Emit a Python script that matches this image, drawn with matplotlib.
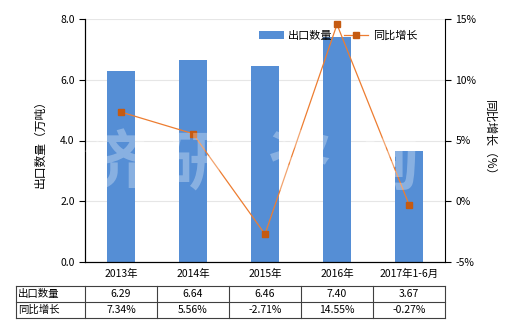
import matplotlib
matplotlib.use("Agg")
import matplotlib.pyplot as plt
import numpy as np

plt.rcParams['font.family'] = ['Noto Sans CJK SC', 'DejaVu Sans']

categories = ["2013年", "2014年", "2015年", "2016年", "2017年1-6月"]
export_qty = [6.29, 6.64, 6.46, 7.40, 3.67]
yoy = [7.34, 5.56, -2.71, 14.55, -0.27]
qty_labels = ["6.29", "6.64", "6.46", "7.40", "3.67"]
yoy_labels = ["7.34%", "5.56%", "-2.71%", "14.55%", "-0.27%"]
left_ticks = [0, 2, 4, 6, 8]
right_ticks = [-5, 0, 5, 10, 15]

W, H = 520, 330
fig = plt.figure(figsize=(W/100, H/100), dpi=100)
fs = 7.5

x0, x1, yb, yt = 85, 445, 262, 19
ax = fig.add_axes([x0/W, 1 - yb/H, (x1-x0)/W, (yb-yt)/H])
x = np.arange(len(categories))
bars = ax.bar(x, export_qty, width=0.39, color='#558ED5', label='出口数量', zorder=2)
ax.set_xlim(-0.5, len(categories) - 0.5)
ax.set_ylim(0, 8)
ax.set_yticks(left_ticks)
ax.set_yticklabels([f"{v:.1f}" for v in left_ticks], fontsize=fs)
ax.set_xticks(x)
ax.set_xticklabels(categories, fontsize=fs)
ax.tick_params(axis='x', length=0, pad=5)
ax.tick_params(axis='y', length=4, width=0.8)
ax.grid(axis='y', color='#E6E6E6', linewidth=0.8, zorder=0)
ax.spines['top'].set_visible(False)
ax.spines['right'].set_visible(False)
ax.set_ylabel('出口数量（万吨）', fontsize=fs + 1, labelpad=10)

ax2 = ax.twinx()
line, = ax2.plot(x, yoy, color='#ED7D31', linewidth=0.9, marker='s', markersize=4,
                 markerfacecolor='#C55A11', markeredgecolor='#C55A11', label='同比增长', zorder=3)
ax2.set_ylim(-5, 15)
ax2.set_yticks(right_ticks)
ax2.set_yticklabels([f"{v}%" for v in right_ticks], fontsize=fs)
ax2.tick_params(axis='y', length=4, width=0.8)
ax2.spines['top'].set_visible(False)
ax2.set_ylabel('同比增长（%）', fontsize=fs + 1, rotation=270, labelpad=14)

# watermark
for cx, ch in zip([115, 196, 300, 387], "济研咨询"):
    fig.text(cx/W, 1 - 165/H, ch, fontsize=46, color='white', alpha=0.3,
             ha='center', va='center', fontweight='bold', zorder=10)

leg = ax.legend([bars, line], ['出口数量', '同比增长'], loc='upper left',
                bbox_to_anchor=((255 - x0)/(x1-x0), 0.97), ncol=2, frameon=False,
                fontsize=fs + 0.5, handlelength=2.2, handleheight=0.8, columnspacing=1.0,
                handletextpad=0.4, borderaxespad=0)

# data table
tx0, tx1, ty0, ty1 = 16, 445, 286, 318
tab = fig.add_axes([tx0/W, 1 - ty1/H, (tx1-tx0)/W, (ty1-ty0)/H])
tab.set_xlim(tx0, tx1)
tab.set_ylim(ty1, ty0)
tab.axis('off')
col_edges = [tx0, x0] + [x0 + 72*(i+1) for i in range(5)]
row_edges = [ty0, 302, ty1]
for ce in col_edges:
    tab.plot([ce, ce], [ty0, ty1], color='#404040', linewidth=0.8, clip_on=False)
for re in row_edges:
    tab.plot([tx0, tx1], [re, re], color='#404040', linewidth=0.8, clip_on=False)
rows = [('出口数量', qty_labels), ('同比增长', yoy_labels)]
for r, (name, vals) in enumerate(rows):
    yc = (row_edges[r] + row_edges[r+1]) / 2
    tab.text(tx0 + 2, yc, name, fontsize=fs, ha='left', va='center')
    for i, v in enumerate(vals):
        xc = (col_edges[i+1] + col_edges[i+2]) / 2
        tab.text(xc, yc, v, fontsize=fs, ha='center', va='center')

fig.savefig('out.png', dpi=100)
